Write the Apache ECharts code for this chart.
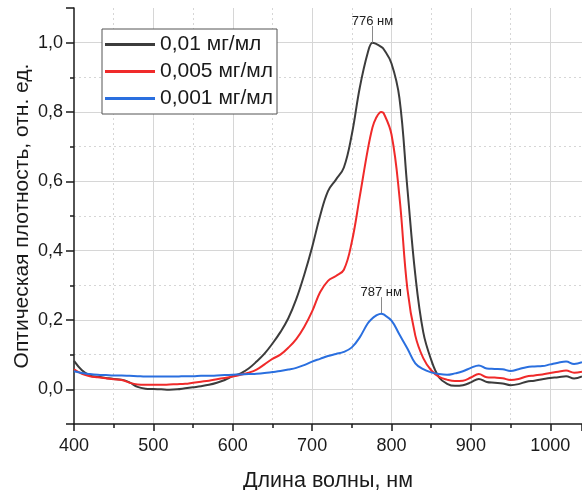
<!DOCTYPE html>
<html>
<head>
<meta charset="utf-8">
<script src="https://cdn.jsdelivr.net/npm/echarts@6/dist/echarts.min.js"></script>
<style>
  html, body { margin: 0; padding: 0; background: #fff; }
  #chart { width: 582px; height: 490px; }
</style>
</head>
<body>
<div id="chart"></div>
<script>
// Absorption spectra at three concentrations
const wavelength = [
  400, 410, 420, 430, 440, 450, 460, 470, 480, 490,
  500, 510, 520, 530, 540, 550, 560, 570, 580, 590,
  600, 610, 620, 630, 640, 650, 660, 670, 680, 690,
  700, 710, 720, 730, 740, 750, 760, 770, 776, 780,
  787, 790, 800, 810, 820, 830, 840, 850, 860, 870,
  880, 890, 900, 910, 920, 930, 940, 950, 960, 970,
  980, 990, 1000, 1010, 1020, 1030, 1040
];

const conc001 = [
  0.082, 0.055, 0.040, 0.036, 0.033, 0.030, 0.028, 0.020, 0.007, 0.002,
  0.001, 0.000, -0.001, 0.000, 0.003, 0.006, 0.009, 0.013, 0.019, 0.027,
  0.038, 0.046, 0.060, 0.080, 0.103, 0.132, 0.165, 0.205, 0.260, 0.330,
  0.410, 0.500, 0.572, 0.605, 0.640, 0.735, 0.870, 0.970, 1.000, 0.997,
  0.988, 0.982, 0.940, 0.840, 0.580, 0.330, 0.165, 0.085, 0.034, 0.016,
  0.010, 0.012, 0.020, 0.030, 0.021, 0.019, 0.017, 0.012, 0.015, 0.022,
  0.025, 0.029, 0.033, 0.035, 0.038, 0.031, 0.037
];

const conc0005 = [
  0.058, 0.045, 0.038, 0.035, 0.032, 0.029, 0.027, 0.019, 0.014, 0.013,
  0.013, 0.013, 0.014, 0.015, 0.016, 0.019, 0.022, 0.025, 0.029, 0.033,
  0.037, 0.042, 0.048, 0.057, 0.072, 0.088, 0.100, 0.120, 0.145, 0.180,
  0.225, 0.280, 0.313, 0.327, 0.345, 0.425, 0.556, 0.690, 0.755, 0.780,
  0.800, 0.797, 0.735, 0.556, 0.290, 0.155, 0.090, 0.055, 0.036, 0.028,
  0.024, 0.025, 0.034, 0.044, 0.035, 0.034, 0.032, 0.027, 0.030, 0.037,
  0.040, 0.043, 0.047, 0.051, 0.054, 0.048, 0.051
];

const conc0001 = [
  0.052, 0.047, 0.044, 0.042, 0.041, 0.040, 0.040, 0.039, 0.038, 0.037,
  0.037, 0.037, 0.037, 0.037, 0.038, 0.038, 0.039, 0.039, 0.040, 0.041,
  0.042, 0.043, 0.044, 0.045, 0.047, 0.050, 0.053, 0.057, 0.062, 0.070,
  0.080, 0.088, 0.096, 0.102, 0.108, 0.121, 0.150, 0.190, 0.205, 0.212,
  0.218, 0.216, 0.198, 0.158, 0.118, 0.075, 0.058, 0.049, 0.044, 0.042,
  0.046, 0.052, 0.062, 0.069, 0.060, 0.059, 0.058, 0.053, 0.058, 0.064,
  0.066, 0.067, 0.072, 0.077, 0.080, 0.073, 0.078
];

const seriesNames = ['0,01 мг/мл', '0,005 мг/мл', '0,001 мг/мл'];
const seriesValues = [conc001, conc0005, conc0001];
const seriesColors = ['#3c3c3c', '#f02a2a', '#2a6fdf'];

// Peak markers: wavelength of the maximum and the series it belongs to
const peakWavelength = [776, 787];
const peakSeries = [0, 2];

const fontFamily = 'Liberation Sans, Arial, sans-serif';
const axisColor = '#1a1a1a';
const gridColor = '#d6d6d6';

function pairs(values) {
  return wavelength.map((w, i) => [w, values[i]]);
}

function comma(v, digits) {
  return v.toFixed(digits).replace('.', ',');
}

const series = seriesNames.map((name, s) => {
  const item = {
    name: name,
    type: 'line',
    data: pairs(seriesValues[s]),
    symbol: 'none',
    smooth: 0.4,
    lineStyle: { color: seriesColors[s], width: 2 },
    itemStyle: { color: seriesColors[s] },
    z: 3 + s
  };
  const p = peakSeries.indexOf(s);
  if (p >= 0) {
    const w = peakWavelength[p];
    const v = seriesValues[s][wavelength.indexOf(w)];
    item.markLine = {
      silent: true,
      symbol: ['none', 'none'],
      animation: false,
      lineStyle: { color: '#8a8a8a', width: 1, type: 'solid' },
      label: {
        show: true,
        position: 'end',
        distance: -2,
        formatter: w + ' нм',
        color: '#222',
        fontSize: 13,
        fontFamily: fontFamily
      },
      data: [[{ coord: [w, v] }, { coord: [w, v + 0.048] }]]
    };
  }
  return item;
});

const chart = echarts.init(document.getElementById('chart'), null, { renderer: 'canvas' });

chart.setOption({
  animation: false,
  backgroundColor: '#ffffff',
  textStyle: { fontFamily: fontFamily },
  grid: { left: 74, right: 0, top: 8, bottom: 66, containLabel: false, outerBoundsMode: 'none' },
  legend: {
    orient: 'vertical',
    left: 102,
    top: 29,
    backgroundColor: '#ffffff',
    borderColor: '#555555',
    borderWidth: 1,
    borderRadius: 0,
    padding: [5, 4, 5, 3],
    icon: 'rect',
    itemWidth: 50,
    itemHeight: 3,
    itemGap: 6,
    textStyle: { fontSize: 21, color: '#1a1a1a', fontFamily: fontFamily, lineHeight: 21 },
    data: seriesNames
  },
  xAxis: {
    type: 'value',
    min: 400,
    max: 1040,
    interval: 100,
    name: 'Длина волны, нм',
    nameLocation: 'middle',
    nameGap: 46,
    nameTextStyle: { fontSize: 21.5, color: '#1a1a1a', fontFamily: fontFamily },
    axisLine: { show: true, onZero: false, lineStyle: { color: axisColor, width: 1.5 } },
    axisTick: { show: true, inside: false, length: 7, lineStyle: { color: axisColor, width: 1.5 } },
    minorTick: { show: true, splitNumber: 2, length: 4, lineStyle: { color: axisColor, width: 1.5 } },
    axisLabel: {
      margin: 13,
      fontSize: 18,
      color: '#1a1a1a',
      fontFamily: fontFamily,
      formatter: v => (v % 100 === 0 ? String(v) : '')
    },
    splitLine: { show: true, showMinLine: false, showMaxLine: false, lineStyle: { color: gridColor, width: 1 } },
    minorSplitLine: { show: true, lineStyle: { color: gridColor, width: 1, type: [2, 3] } }
  },
  yAxis: {
    type: 'value',
    min: -0.1,
    max: 1.1,
    splitNumber: 6,
    name: 'Оптическая плотность, отн. ед.',
    nameLocation: 'middle',
    nameGap: 41,
    nameMoveOverlap: false,
    nameTextStyle: { fontSize: 21, color: '#1a1a1a', fontFamily: fontFamily },
    axisLine: { show: true, onZero: false, lineStyle: { color: axisColor, width: 1.5 } },
    axisTick: { show: true, inside: false, length: 8, lineStyle: { color: axisColor, width: 1.5 } },
    minorTick: { show: true, splitNumber: 2, length: 4, lineStyle: { color: axisColor, width: 1.5 } },
    axisLabel: {
      margin: 11,
      fontSize: 18,
      color: '#1a1a1a',
      fontFamily: fontFamily,
      formatter: v => {
        const k = Math.round(v * 10);
        return (k >= 0 && k <= 10 && k % 2 === 0) ? comma(v, 1) : '';
      }
    },
    splitLine: { show: true, showMinLine: false, showMaxLine: false, lineStyle: { color: gridColor, width: 1 } },
    minorSplitLine: { show: true, lineStyle: { color: gridColor, width: 1, type: [2, 3] } }
  },
  series: series
});
</script>
</body>
</html>
